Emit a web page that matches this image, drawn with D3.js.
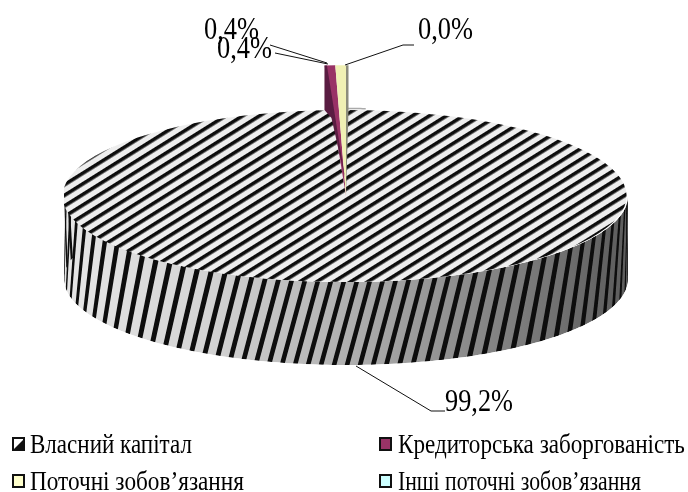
<!DOCTYPE html>
<html>
<head>
<meta charset="utf-8">
<script src="https://cdn.jsdelivr.net/npm/d3@7"></script>
<style>
  html, body { margin: 0; padding: 0; background: #fff; }
  text { font-family: "Liberation Serif", serif; fill: #000; }
</style>
</head>
<body>
<div id="visualization"></div>
<script>
var categories = ["Власний капітал", "Кредиторська заборгованість", "Поточні зобов’язання", "Інші поточні зобов’язання"];
var shares = [99.2, 0.4, 0.4, 0.0];
var shareLabels = ["99,2%", "0,4%", "0,4%", "0,0%"];
var sliceColors = ["#eeeeee", "#993366", "#f0f0b4", "#ccffff"];
var swatchColors = ["#ffffff", "#993366", "#ffffcc", "#ccffff"];
var sliceSideColors = ["#888888", "#5a1f42", "#8c8c7c", "#88aaaa"];

var width = 688, height = 492;
var cx = 346, cy = 196, rx = 282, ry = 86, depth = 83;
var explode = 1.52;       // the small slices stick out past the rim
var wallStep = 0.046;     // stripe spacing (radians) at the front of the wall
var wallLean = 0.08;      // how far (radians) a wall stripe slides from top to bottom

var svg = d3.select("#visualization").append("svg")
    .attr("width", width)
    .attr("height", height)
    .style("display", "block");

var defs = svg.append("defs");

var soft = defs.append("filter").attr("id", "soft")
    .attr("filterUnits", "userSpaceOnUse")
    .attr("x", 0).attr("y", 0).attr("width", width).attr("height", height);
soft.append("feGaussianBlur").attr("stdDeviation", 0.7);

var softText = defs.append("filter").attr("id", "softText")
    .attr("filterUnits", "userSpaceOnUse")
    .attr("x", 0).attr("y", 0).attr("width", width).attr("height", height);
softText.append("feGaussianBlur").attr("stdDeviation", 0.35);

// wide upward diagonal on the top face
var hatch = defs.append("pattern").attr("id", "hatch")
    .attr("patternUnits", "userSpaceOnUse")
    .attr("width", 20).attr("height", 9)
    .attr("patternTransform", "rotate(-32)");
hatch.append("rect").attr("width", 20).attr("height", 9).attr("fill", "#eeeeee");
hatch.append("rect").attr("width", 20).attr("height", 3.6).attr("fill", "#0a0a0a");

// the wall gets darker to the right
var wallShade = defs.append("linearGradient").attr("id", "wallShade")
    .attr("gradientUnits", "userSpaceOnUse")
    .attr("x1", cx - rx).attr("x2", cx + rx).attr("y1", 0).attr("y2", 0);
[[0, "#e6e6e6"], [0.25, "#d4d4d4"], [0.5, "#b0b0b0"], [0.7, "#8e8e8e"], [1, "#5c5c5c"]].forEach(function (s) {
  wallShade.append("stop").attr("offset", s[0]).attr("stop-color", s[1]);
});

var pie = d3.pie().sort(null).value(function (d) { return d; }).startAngle(0).endAngle(2 * Math.PI);
var slices = pie(shares);

var arc = d3.arc().innerRadius(0).outerRadius(1);

function rimX(a, r) { return cx + rx * (r || 1) * Math.sin(a); }
function rimY(a, r) { return cy - ry * (r || 1) * Math.cos(a); }

var chart = svg.append("g").attr("filter", "url(#soft)");

// ---- side wall of the big slice
var frontAngles = d3.range(Math.PI / 2, 3 * Math.PI / 2 + 0.001, 0.02);
var line = d3.line();
var wallOutline = line(
    frontAngles.map(function (a) { return [rimX(a), rimY(a)]; })
      .concat(frontAngles.slice().reverse().map(function (a) { return [rimX(a), rimY(a) + depth]; }))
  ) + "Z";

defs.append("clipPath").attr("id", "wallClip").append("path").attr("d", wallOutline);

var wall = chart.append("g").attr("clip-path", "url(#wallClip)");
wall.append("path").attr("d", wallOutline).attr("fill", "url(#wallShade)");

// stripes are spaced wider in angle toward the ends, so they don't clog up there
function nextStep(a) {
  var s = Math.sin(a - Math.PI);
  return wallStep * (1 + s * s);
}
var stripeStarts = [];
for (var a = Math.PI; a < 3 * Math.PI / 2 + 0.2; a += nextStep(a)) stripeStarts.push(a);
for (var b = Math.PI - nextStep(Math.PI); b > Math.PI / 2 - 0.2; b -= nextStep(b)) stripeStarts.push(b);

wall.selectAll("path.stripe")
    .data(stripeStarts)
  .enter().append("path")
    .attr("class", "stripe")
    .attr("fill", "#0a0a0a")
    .attr("d", function (a0) {
      var a1 = a0 + nextStep(a0) * 0.36;
      return line([
        [rimX(a0), rimY(a0)],
        [rimX(a1), rimY(a1)],
        [rimX(a1 + wallLean), rimY(a1 + wallLean) + depth],
        [rimX(a0 + wallLean), rimY(a0 + wallLean) + depth]
      ]) + "Z";
    });

// ---- top face of the big slice
defs.append("clipPath").attr("id", "topClip").append("path")
    .attr("d", arc(slices[0]))
    .attr("transform", "translate(" + cx + "," + cy + ") scale(" + rx + "," + ry + ")");

chart.append("rect")
    .attr("x", cx - rx).attr("y", cy - ry)
    .attr("width", 2 * rx).attr("height", 2 * ry)
    .attr("fill", "url(#hatch)")
    .attr("clip-path", "url(#topClip)");

// thin grey bit of back rim to the right of the small slices
chart.append("path")
    .attr("d", line(d3.range(0, 0.075, 0.01).map(function (a) { return [rimX(a), rimY(a) - 1.5]; })))
    .attr("fill", "none")
    .attr("stroke", "#aaaaaa")
    .attr("stroke-width", 1.5);

// ---- the small slices
var small = slices.slice(1).filter(function (d) { return d.value > 0; });

chart.selectAll("path.smallTop")
    .data(small)
  .enter().append("path")
    .attr("class", "smallTop")
    .attr("fill", function (d) { return sliceColors[d.index]; })
    .attr("d", arc)
    .attr("transform", "translate(" + cx + "," + cy + ") scale(" + (rx * explode) + "," + (ry * explode) + ")");

// their side faces, drawn over the tops: dark sliver left of the purple, grey strip right of the yellow
chart.selectAll("path.smallWall")
    .data(small)
  .enter().append("path")
    .attr("class", "smallWall")
    .attr("fill", function (d) { return sliceSideColors[d.index]; })
    .attr("d", function (d) {
      var a = d.index === 1 ? d.startAngle : d.endAngle;
      var x0 = rimX(a, explode), y0 = rimY(a, explode);
      if (d.index === 1) {
        return line([[x0, y0], [x0 + 2.5, y0], [cx - 1, cy - 18], [x0 + 7, rimY(a) + 8], [x0, rimY(a)]]) + "Z";
      }
      return line([[x0, y0], [x0 + 2.5, y0], [x0 + 2.5, rimY(a)], [x0, cy]]) + "Z";
    });

// ---- leader lines
var leaders = [
  [[356, 366], [431, 411], [445, 411]],
  [[270, 45], [327, 63]],
  [[275, 53], [328, 64]],
  [[414, 45], [403, 45], [345, 65]]
];
svg.selectAll("path.leader")
    .data(leaders)
  .enter().append("path")
    .attr("class", "leader")
    .attr("fill", "none")
    .attr("stroke", "#111111")
    .attr("stroke-width", 1)
    .attr("d", line);

var texts = svg.append("g").attr("filter", "url(#softText)");

// squeeze a text sideways to a given width, the original is stretched like that
function squeeze(sel, xOf, yOf, wOf) {
  sel.attr("transform", function (d, i) {
    var sx = wOf(d, i) / this.getComputedTextLength();
    return "translate(" + xOf(d, i) + "," + yOf(d, i) + ") scale(" + sx + ",1)";
  });
}

// ---- value labels
var labelX = [445, 204, 217, 418];
var labelY = [411, 39, 58, 39];
var labelW = [68, 55, 55, 55];
texts.selectAll("text.value")
    .data(shareLabels)
  .enter().append("text")
    .attr("class", "value")
    .attr("font-size", 32)
    .text(function (d) { return d; })
    .call(squeeze,
      function (d, i) { return labelX[i]; },
      function (d, i) { return labelY[i]; },
      function (d, i) { return labelW[i]; });

// ---- legend
var legendX = [12, 379, 12, 379];
var legendTextX = [30, 398, 30, 398];
var legendTextW = [162, 287, 214, 243];
var legendY = [453, 453, 490, 490];

var legend = svg.selectAll("g.legend")
    .data(categories)
  .enter().append("g")
    .attr("class", "legend");

legend.append("rect")
    .attr("x", function (d, i) { return legendX[i] + 1; })
    .attr("y", function (d, i) { return legendY[i] - 15; })
    .attr("width", 11).attr("height", 12)
    .attr("fill", function (d, i) { return swatchColors[i]; })
    .attr("stroke", "#111111")
    .attr("stroke-width", 2);

// first swatch is half black, as its hatch would be at that size
legend.filter(function (d, i) { return i === 0; }).append("path")
    .attr("fill", "#111111")
    .attr("d", function () {
      var x = legendX[0] + 1, y = legendY[0] - 15;
      return line([[x, y + 12], [x + 11, y + 12], [x + 11, y + 1], [x, y + 12]]) + "Z";
    });

texts.selectAll("text.legendText")
    .data(categories)
  .enter().append("text")
    .attr("class", "legendText")
    .attr("font-size", 27)
    .text(function (d) { return d; })
    .call(squeeze,
      function (d, i) { return legendTextX[i]; },
      function (d, i) { return legendY[i]; },
      function (d, i) { return legendTextW[i]; });
</script>
</body>
</html>
